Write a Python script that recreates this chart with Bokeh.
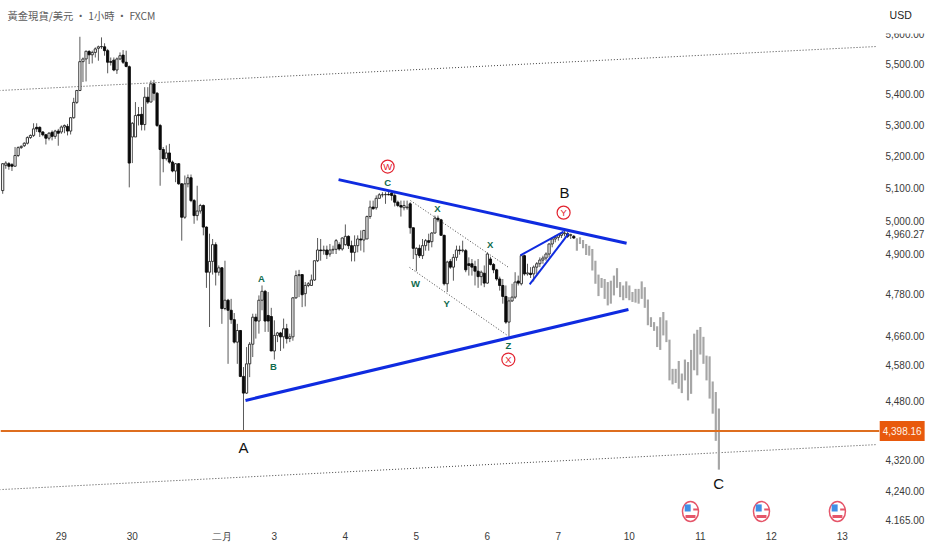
from bokeh.plotting import figure
from bokeh.models import Range1d, FixedTicker, Label, BoxAnnotation
from bokeh.embed import file_html
from bokeh.resources import INLINE
from bokeh.core.properties import value

opens = [5092,5171,5176,5173,5168,5202,5227,5233,5241,5259,
5266,5292,5292,5277,5268,5257,5276,5263,5280,5277,
5293,5295,5280,5323,5373,5412,5508,5517,5542,5531,
5539,5553,5558,5558,5545,5508,5513,5480,5517,5530,
5506,5491,5261,5261,5333,5334,5301,5390,5374,5434,
5403,5298,5221,5192,5210,5181,5153,5176,5113,5010,
5113,5132,5061,5015,5029,5046,4980,4845,4877,4927,
4845,4858,4739,4763,4734,4707,4643,4676,4547,4501,
4582,4637,4714,4703,4763,4789,4719,4716,4618,4662,
4669,4658,4681,4653,4658,4770,4835,4838,4782,4806,
4806,4822,4879,4911,4909,4911,4899,4911,4913,4927,
4914,4927,4952,4924,4904,4924,4944,4941,4944,5012,
5041,5039,5068,5079,5079,5080,5084,5077,5056,5046,
5039,5039,5051,4978,4897,4916,4894,4924,4939,4936,
4962,5007,5002,4955,4811,4877,4860,4889,4911,4909,
4909,4870,4870,4862,4848,4832,4842,4813,4884,4868,
4852,4825,4806,4774,4700,4761,4772,4819,4811,4894,
4840,4842,4840,4860,4870,4881,4887,4899,4929,4944,
4949,4955,4960,4960,4955,4952]
highs = [5178,5184,5181,5178,5229,5231,5234,5244,5263,5269,
5305,5305,5295,5280,5271,5277,5282,5284,5287,5298,
5301,5303,5325,5388,5414,5592,5522,5545,5547,5545,
5556,5562,5590,5570,5551,5522,5522,5522,5539,5547,
5545,5495,5309,5374,5358,5358,5423,5423,5445,5447,
5407,5303,5229,5234,5239,5186,5178,5178,5115,5139,
5142,5142,5066,5107,5051,5049,4982,4960,4944,4934,
4865,4860,4879,4767,4767,4726,4695,4676,4573,4629,
4643,4724,4724,4777,4806,4793,4787,4741,4705,4672,
4672,4710,4695,4667,4772,4850,4852,4838,4816,4816,
4838,4879,4947,4944,4924,4924,4929,4924,4944,4934,
4949,4988,4955,4939,4955,4955,4970,4970,5015,5061,
5061,5077,5084,5087,5087,5092,5092,5084,5061,5061,
5061,5061,5056,4978,4919,4927,4944,4944,4960,4965,
5015,5015,5005,4957,4879,4884,4899,4924,4924,4939,
4914,4889,4884,4879,4884,4850,4865,4904,4891,4872,
4855,4832,4825,4806,4772,4811,4845,4835,4897,4897,
4870,4860,4865,4875,4889,4894,4904,4931,4949,4955,
4960,4965,4970,4965,4960,4956]
lows = [5082,5160,5157,5153,5167,5197,5223,5229,5237,5255,
5261,5277,5261,5263,5237,5250,5250,5255,5233,5271,
5273,5266,5269,5320,5368,5410,5440,5442,5500,5502,
5522,5511,5551,5528,5469,5495,5476,5467,5513,5500,
5489,5102,5178,5261,5298,5282,5282,5368,5374,5379,
5293,5107,5149,5186,5176,5149,5118,5110,4939,5005,
5102,5056,4990,5000,5021,4955,4799,4686,4838,4806,
4835,4695,4734,4582,4695,4639,4582,4545,4400,4499,
4545,4601,4653,4667,4734,4672,4672,4618,4594,4643,
4618,4625,4639,4643,4647,4767,4772,4743,4745,4801,
4806,4820,4875,4879,4897,4884,4891,4899,4899,4909,
4909,4924,4914,4877,4877,4904,4909,4904,4944,5005,
5033,5033,5068,5071,5051,5077,5061,5043,5041,5012,
5031,5033,4960,4884,4848,4887,4884,4909,4909,4919,
4960,4995,4955,4806,4787,4855,4820,4879,4897,4904,
4845,4835,4835,4806,4799,4806,4801,4811,4865,4842,
4820,4791,4753,4695,4659,4758,4767,4806,4806,4835,
4835,4828,4818,4840,4860,4870,4879,4889,4919,4934,
4939,4947,4952,4947,4944,4944]
closes = [5176,5178,5168,5168,5202,5227,5231,5241,5259,5266,
5287,5287,5277,5268,5257,5273,5263,5280,5273,5293,
5298,5280,5323,5373,5412,5508,5517,5543,5531,5539,
5551,5558,5559,5545,5506,5506,5480,5517,5528,5506,
5492,5178,5305,5330,5330,5301,5390,5374,5434,5403,
5298,5221,5192,5210,5181,5153,5176,5113,5010,5113,
5132,5061,5015,5029,5046,4980,4845,4877,4927,4845,
4858,4739,4763,4734,4707,4643,4676,4547,4501,4582,
4637,4714,4703,4763,4789,4703,4703,4618,4662,4669,
4658,4681,4653,4658,4770,4835,4838,4779,4806,4811,
4822,4879,4911,4909,4911,4897,4911,4913,4939,4914,
4947,4952,4924,4904,4924,4944,4941,4970,5012,5041,
5036,5068,5079,5079,5080,5079,5077,5056,5046,5041,
5046,5041,4978,4916,4916,4894,4924,4939,4934,4962,
5007,5002,4955,4811,4875,4860,4889,4911,4909,4911,
4852,4865,4860,4848,4832,4845,4813,4899,4868,4852,
4825,4806,4774,4700,4761,4772,4816,4813,4894,4840,
4843,4838,4860,4870,4881,4887,4899,4929,4944,4949,
4957,4960,4962,4952,4957,4947]

ghost_highs = [4946,4949,4941,4929,4924,4914,4879,4838,4828,4825,
4816,4820,4835,4857,4816,4806,4818,4806,4787,4796,
4796,4818,4801,4765,4714,4700,4688,4714,4729,4705,
4650,4568,4568,4590,4555,4594,4587,4621,4667,4678,
4686,4658,4605,4603,4533,4504,4459]
ghost_lows = [4909,4929,4916,4896,4894,4850,4811,4775,4799,4767,
4748,4753,4777,4799,4772,4763,4769,4763,4758,4756,
4753,4767,4741,4691,4686,4675,4629,4621,4662,4643,
4536,4525,4529,4513,4501,4536,4481,4499,4564,4550,
4608,4582,4536,4486,4445,4372,4296]

price_ticks = [5600,5500,5400,5300,5200,5100,5000,4960.27,4900,4780,4660,4580,4480,4320,4240,4165]
price_labels = ["5,600.00","5,500.00","5,400.00","5,300.00","5,200.00","5,100.00","5,000.00","4,960.27",
                "4,900.00","4,780.00","4,660.00","4,580.00","4,480.00","4,320.00","4,240.00","4.165.00"]
date_ticks = [19,42,71,88,111,134,157,180,203,226,249,272]
date_labels = ["29","30","二月","3","4","5","6","7","10","11","12","13"]
last_price = 4398.16
x_lo, x_hi = -0.713, 301.2
axis_x = 283.05
y_lo, y_hi = 4152.3, 5717

top_dot_x, top_dot_y = [-1, 283.05], [5412, 5559]
low_dot_x, low_dot_y = [-1, 283.05], [4244, 4362]
blue_low_x, blue_low_y = [78.65, 202.7], [4481, 4736]
blue_up_x, blue_up_y = [108.8, 202.1], [5126, 4931]
wedge_a_x, wedge_a_y = [167.7, 181.7], [4895, 4966]
wedge_b_x, wedge_b_y = [170.7, 183.3], [4809, 4960]
chan_a_x, chan_a_y = [132.1, 163.9], [5061, 4859]
chan_b_x, chan_b_y = [131.8, 163.5], [4859, 4662]

wave_x = [124.7, 140.8, 157.9, 133.7, 143.8, 163.8, 83.8, 87.7]
wave_y = [5117, 5037, 4927, 4812, 4753, 4634, 4826, 4574]
wave_t = ["C", "X", "X", "W", "Y", "Z", "A", "B"]
circ_x = [124.7, 163.8, 181.7]
circ_y = [5167, 4594, 5024]
circ_t = ["W", "X", "Y"]
big_x = [182, 78, 231.9]
big_y = [5086, 4354, 4260]
big_t = ["B", "A", "C"]
flag_x = [222.8, 245.8, 270.4]
flag_y = [4188, 4188, 4188]
flag_canton_x = [221.9, 244.9, 269.5]
flag_canton_y = [4197, 4197, 4197]
flag_stripe_x = [224.5, 247.5, 272.1]
flag_stripe_y = [4193, 4193, 4193]
flag_band_y = [4175, 4175, 4175]

n = len(opens)
assert n == 186 and len(highs) == n and len(lows) == n and len(closes) == n and len(ghost_highs) == 47 and len(ghost_lows) == 47
idx = list(range(n))
ghost_idx = list(range(n, n + 47))
up = [i for i in idx if closes[i] >= opens[i]]
dn = [i for i in idx if closes[i] < opens[i]]

p = figure(frame_width=932, frame_height=525, min_border_left=0, min_border_top=0,
           min_border_right=0, min_border_bottom=25, y_axis_type="log", y_axis_location="right",
           x_range=Range1d(x_lo, x_hi), y_range=Range1d(y_lo, y_hi),
           output_backend="svg", toolbar_location=None, background_fill_color="white", outline_line_color=None)
p.grid.visible = False

ya = p.yaxis[0]
ya.ticker = FixedTicker(ticks=price_ticks)
ya.major_label_overrides = dict(zip(price_ticks, price_labels))
ya.fixed_location = axis_x
xa = p.xaxis[0]
xa.ticker = FixedTicker(ticks=date_ticks)
xa.major_label_overrides = dict(zip(date_ticks, date_labels))
for a in (xa, ya):
    a.axis_line_color = None
    a.major_tick_line_color = None
    a.minor_tick_line_color = None
    a.major_tick_out = 0
    a.major_tick_in = 0
    a.major_label_text_color = "#3a3a3a"
    a.major_label_text_font = "Liberation Sans"
    a.major_label_text_font_size = "10px"
ya.major_label_standoff = 9
xa.major_label_standoff = 5

dotted = dict(line_color="#444444", line_width=1, line_dash="1 2")
p.line(top_dot_x, top_dot_y, **dotted)
p.line(low_dot_x, low_dot_y, **dotted)
p.line(chan_a_x, chan_a_y, **dotted)
p.line(chan_b_x, chan_b_y, **dotted)

p.vbar(x=ghost_idx, bottom=ghost_lows, top=ghost_highs, width=0.7, fill_color="#a6a6a6", line_color=None)

p.segment(idx, lows, idx, highs, line_color="#5a5a5a", line_width=1)
p.vbar(x=up, bottom=[opens[i] for i in up], top=[closes[i] for i in up], width=0.72,
       fill_color="white", line_color="#262626", line_width=0.9)
p.vbar(x=dn, bottom=[closes[i] for i in dn], top=[opens[i] for i in dn], width=0.72,
       fill_color="#0a0a0a", line_color="#0a0a0a", line_width=0.9)

p.line([x_lo, axis_x + 0.9], [last_price, last_price], line_color="#de6e1f", line_width=2)

blue = "#0f2be0"
p.line(blue_low_x, blue_low_y, line_color=blue, line_width=3)
p.line(blue_up_x, blue_up_y, line_color=blue, line_width=3)
p.line(wedge_a_x, wedge_a_y, line_color=blue, line_width=2)
p.line(wedge_b_x, wedge_b_y, line_color=blue, line_width=2)

p.text(wave_x, wave_y, text=wave_t, text_color="#0f6b4e", text_font=value("Liberation Sans"),
       text_font_size="9.5px", text_font_style="bold", text_align="center", text_baseline="middle")
p.scatter(circ_x, circ_y, marker="circle", size=13, fill_color="white", line_color="#e2232f", line_width=1.2)
p.text(circ_x, circ_y, text=circ_t, text_color="#e2232f", text_font=value("Liberation Sans"),
       text_font_size="9.5px", text_align="center", text_baseline="middle")
p.text(big_x, big_y, text=big_t, text_color="#111111", text_font=value("Liberation Sans"),
       text_font_size="15px", text_align="center", text_baseline="middle")

p.ellipse(flag_x, flag_y, width=16, height=20, width_units="screen", height_units="screen",
          fill_color="white", line_color="#e5566a", line_width=1.5)
p.rect(flag_canton_x, flag_canton_y, width=6, height=7, width_units="screen", height_units="screen",
       fill_color="#3f8fe6", line_color=None)
p.rect(flag_stripe_x, flag_stripe_y, width=5, height=2, width_units="screen", height_units="screen",
       fill_color="#e5566a", line_color=None)
p.rect(flag_x, flag_band_y, width=10, height=3, width_units="screen", height_units="screen",
       fill_color="#e5566a", line_color=None)

p.add_layout(BoxAnnotation(left=axis_x + 0.2, right=x_hi, bottom=5603, top=y_hi, fill_color="white",
                           fill_alpha=1, line_color=None, level="overlay"))
p.add_layout(Label(x=287.3, y=5666, text="USD", text_color="#222222", text_font="Liberation Sans",
                   text_font_size="10.5px", text_baseline="middle", level="overlay"))
p.add_layout(Label(x=1.55, y=5666, text="黃金現貨/美元   •   1小時   •   FXCM", text_color="#5c5c5c",
                   text_font="Noto Sans CJK TC", text_font_size="10.3px", text_baseline="middle", level="overlay"))
p.add_layout(Label(x=284.1, y=last_price, text="4,398.16", text_color="#fff2e6", text_font="Liberation Sans",
                   text_font_size="10px", text_baseline="middle", background_fill_color="#e8590c",
                   padding=(3, 6), level="overlay"))

open("out.html", "w").write(file_html(p, INLINE))
